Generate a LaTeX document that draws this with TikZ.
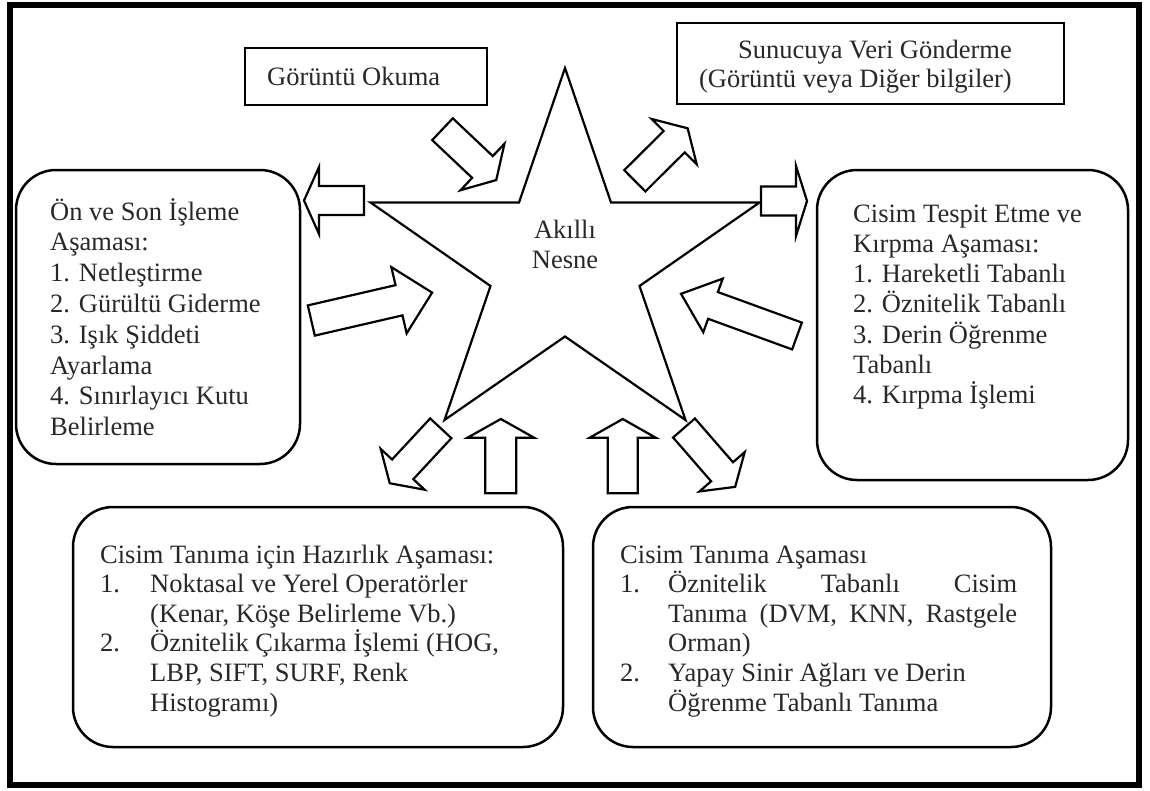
\documentclass[tikz,border=0pt]{standalone}
\usepackage{fontspec}
\setmainfont{Liberation Serif}
\definecolor{inkgray}{RGB}{40,40,40}

% block arrow: tail centre (#1,#2), direction #3 (deg), length #4,
% shaft width #5, head width #6, head length #7
\newcommand{\blockarrow}[7]{%
  \begin{scope}[shift={(#1,#2)}, rotate=#3]
    \draw[blockarr] (0,{-#5/2}) -- ({#4-#7},{-#5/2}) -- ({#4-#7},{-#6/2})
      -- (#4,0) -- ({#4-#7},{#6/2}) -- ({#4-#7},{#5/2}) -- (0,{#5/2}) -- cycle;
  \end{scope}}

\begin{document}
\begin{tikzpicture}[x=1pt,y=-1pt,
  txt/.style={inner sep=0pt, text=inkgray, align=left,
    font=\fontsize{26.5}{30.5}\selectfont},
  plainbox/.style={draw, line width=2.5pt, fill=white, inner sep=0pt},
  roundbox/.style={draw, line width=2.5pt, fill=white, inner sep=0pt,
    rounded corners=40pt},
  blockarr/.style={draw, line width=2.2pt, fill=white, line join=miter},
]
\useasboundingbox (0,0) rectangle (1150,790);
\fill[white] (0,0) rectangle (1150,790);

% outer frame
\draw[line width=6pt] (10,5) rectangle (1139,785);

% boxes
\node[plainbox, minimum width=242pt, minimum height=57pt] (okuma) at (366,76.5) {};
\node[plainbox, minimum width=387pt, minimum height=81pt] (sunucu) at (870.5,63.5) {};
\node[roundbox, minimum width=284pt, minimum height=294pt] (onson) at (158,317) {};
\node[roundbox, minimum width=311pt, minimum height=310pt] (tespit) at (972.5,325) {};
\node[roundbox, minimum width=490pt, minimum height=240pt] (hazirlik) at (318,627) {};
\node[roundbox, minimum width=458pt, minimum height=240pt] (tanima) at (822,627) {};

% star
\draw[blockarr] (565,68) -- (611,202.5) -- (759.5,202.5) -- (639.5,286)
  -- (685.5,420) -- (565,336.5) -- (444.5,420) -- (490.5,286)
  -- (370.5,202.5) -- (519,202.5) -- cycle;
% multi-line nodes are anchored at the baseline of their last line
\node[txt, align=center, anchor=base, font=\fontsize{26.5}{30}\selectfont]
  (nesne) at (565,268) {Akıllı\\Nesne};

% block arrows
\blockarrow{442.5}{129.2}{-43.4}{74}{30}{64}{19}
\blockarrow{634.8}{180.8}{44.8}{74.5}{30}{64}{19}
\blockarrow{364}{200.5}{180}{60}{29}{67}{15}
\blockarrow{761}{201}{0}{46}{29}{70}{11}
\blockarrow{311.3}{320.5}{13}{124}{31}{68}{34}
\blockarrow{797}{336}{160}{123.4}{28.5}{57}{34}
\blockarrow{440.8}{428.3}{-132.9}{75}{29}{60}{19}
\blockarrow{500.8}{493.3}{90}{74.3}{31}{66.7}{18.7}
\blockarrow{622.7}{493.3}{90}{74.3}{30}{66}{18.7}
\blockarrow{684}{428}{-49}{78}{29}{60}{20}

% texts
\node[txt, anchor=base west] (okumaT) at (267,85) {Görüntü Okuma};
\node[txt, align=right, anchor=base east, font=\fontsize{26.5}{29}\selectfont]
  (sunucuT) at (1012,87) {Sunucuya Veri Gönderme\\(Görüntü veya Diğer bilgiler)};
\node[txt, anchor=base west, font=\fontsize{26.5}{30.8}\selectfont]
  (onsonT) at (50,435.6) {Ön ve Son İşleme\\Aşaması:\\1. Netleştirme\\2. Gürültü Giderme\\
  3. Işık Şiddeti\\Ayarlama\\4. Sınırlayıcı Kutu\\Belirleme};
\node[txt, anchor=base west, font=\fontsize{26.5}{30.3}\selectfont]
  (tespitT) at (853,403.8) {Cisim Tespit Etme ve\\Kırpma Aşaması:\\1. Hareketli Tabanlı\\
  2. Öznitelik Tabanlı\\3. Derin Öğrenme\\Tabanlı\\4. Kırpma İşlemi};
\node[txt, anchor=base west, font=\fontsize{26.5}{29.6}\selectfont]
  (hazirlikT) at (100,711) {Cisim Tanıma için Hazırlık Aşaması:\\
  \makebox[50pt][l]{1.}Noktasal ve Yerel Operatörler\\
  \hspace*{50pt}(Kenar, Köşe Belirleme Vb.)\\
  \makebox[50pt][l]{2.}Öznitelik Çıkarma İşlemi (HOG,\\
  \hspace*{50pt}LBP, SIFT, SURF, Renk\\
  \hspace*{50pt}Histogramı)};
\node[txt, anchor=base west, font=\fontsize{26.5}{29.6}\selectfont]
  (tanimaT) at (620,711) {Cisim Tanıma Aşaması\\
  \makebox[48pt][l]{1.}\makebox[349pt][s]{Öznitelik\hfill Tabanlı\hfill Cisim}\\
  \hspace*{48pt}\makebox[349pt][s]{Tanıma\hfill (DVM,\hfill KNN,\hfill Rastgele}\\
  \hspace*{48pt}Orman)\\
  \makebox[48pt][l]{2.}Yapay Sinir Ağları ve Derin\\
  \hspace*{48pt}Öğrenme Tabanlı Tanıma};
\end{tikzpicture}
\end{document}
